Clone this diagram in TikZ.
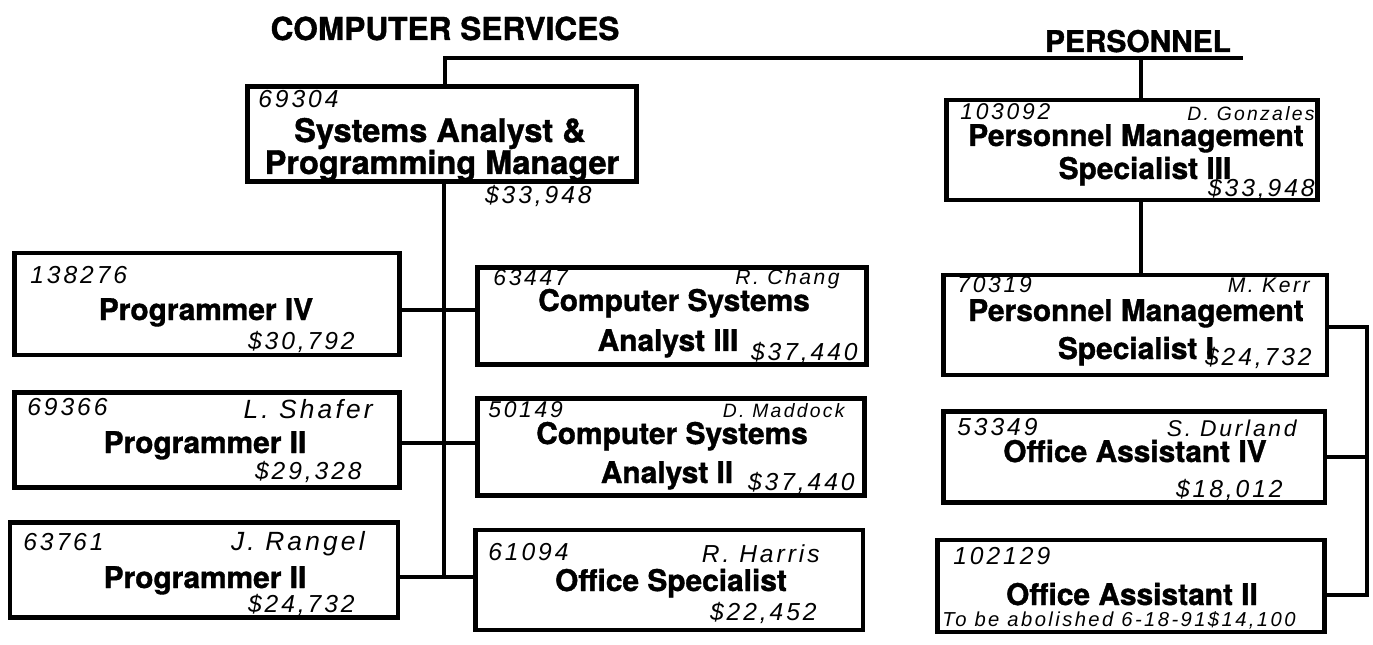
\documentclass[tikz,border=0pt]{standalone}
\usepackage{fontspec}
\newfontfamily\chartfont{TeX Gyre Heros}[BoldFeatures={FakeBold=1.2}]
\newfontfamily\handfont{Liberation Sans}[LetterSpace=12]

\begin{document}
\begin{tikzpicture}[x=0.02cm, y=-0.02cm,
	post/.style={draw, line width=2.8pt, minimum width=7.7cm, minimum height=1.95cm, inner sep=0pt},
	link/.style={line width=2.2pt},
	dept/.style={inner sep=0pt, anchor=base, font=\chartfont\bfseries\fontsize{18}{18}\selectfont},
	ttl/.style={inner sep=0pt, anchor=base, font=\chartfont\bfseries\fontsize{17}{17}\selectfont},
	hand/.style={inner sep=0pt, font=\handfont\itshape\fontsize{14}{14}\selectfont},
	posno/.style={hand, anchor=base west},
	pay/.style={hand, anchor=base east}]
	\useasboundingbox (0,0) rectangle (1373,645);
	% departments
	\node[dept] (cs) at (445,40) {COMPUTER SERVICES};
	\node[dept, font=\chartfont\bfseries\fontsize{17}{17}\selectfont] (pers) at (1138,52) {PERSONNEL};
	% positions
	\node[post, minimum width=7.78cm, minimum height=1.9cm] (mgr) at (442,134) {};
	\node[post, minimum width=7.42cm, minimum height=2cm] (pms3) at (1132,150) {};
	\node[post, minimum height=2.04cm] (p4) at (207,304) {};
	\node[post, minimum height=1.9cm] (p2a) at (207,440) {};
	\node[post, minimum width=7.76cm, minimum height=1.9cm] (p2b) at (204,570) {};
	\node[post, minimum width=7.78cm] (csa3) at (672,316) {};
	\node[post, minimum width=7.74cm] (csa2) at (671,447) {};
	\node[post, minimum width=7.76cm, minimum height=2cm] (os) at (669,580) {};
	\node[post, minimum width=7.68cm, minimum height=2cm] (pms1) at (1135,325) {};
	\node[post, minimum width=7.64cm, minimum height=1.82cm] (oa4) at (1134,457) {};
	\node[post, minimum width=7.74cm, minimum height=1.84cm] (oa2) at (1131,586) {};
	% titles
	\node[ttl, font=\chartfont\bfseries\fontsize{18.5}{18.5}\selectfont] (mgr-a) at (440,142) {Systems Analyst \&};
	\node[ttl, font=\chartfont\bfseries\fontsize{18.5}{18.5}\selectfont] (mgr-b) at (442,174) {Programming Manager};
	\node[ttl] (pms3-a) at (1136,146) {Personnel Management};
	\node[ttl] (pms3-b) at (1145,179) {Specialist III};
	\node[ttl] (p4-a) at (206,320) {Programmer IV};
	\node[ttl] (p2a-a) at (205,453) {Programmer II};
	\node[ttl] (p2b-a) at (205,588) {Programmer II};
	\node[ttl] (csa3-a) at (674,311) {Computer Systems};
	\node[ttl] (csa3-b) at (668,351) {Analyst III};
	\node[ttl] (csa2-a) at (672,444) {Computer Systems};
	\node[ttl] (csa2-b) at (667,483) {Analyst II};
	\node[ttl] (os-a) at (671,591) {Office Specialist};
	\node[ttl] (pms1-a) at (1136,321) {Personnel Management};
	\node[ttl] (pms1-b) at (1136,359) {Specialist I};
	\node[ttl] (oa4-a) at (1135,462) {Office Assistant IV};
	\node[ttl] (oa2-a) at (1132,605) {Office Assistant II};
	% handwritten numbers, names and salaries
	\node[posno] (mgr-no) at (258,108) {69304};
	\node[pay] (mgr-pay) at (592,204) {\$33,948};
	\node[posno, font=\handfont\itshape\fontsize{13}{13}\selectfont] (pms3-no) at (960,120) {103092};
	\node[pay, font=\handfont\itshape\fontsize{11}{11}\selectfont] (pms3-who) at (1315,121) {D. Gonzales};
	\node[pay] (pms3-pay) at (1315,197) {\$33,948};
	\node[posno] (p4-no) at (30,284) {138276};
	\node[pay] (p4-pay) at (355,349) {\$30,792};
	\node[posno] (p2a-no) at (27,415) {69366};
	\node[pay, font=\handfont\itshape\fontsize{15}{15}\selectfont] (p2a-who) at (373,418) {L. Shafer};
	\node[pay] (p2a-pay) at (362,479) {\$29,328};
	\node[posno] (p2b-no) at (23,550) {63761};
	\node[pay, font=\handfont\itshape\fontsize{15}{15}\selectfont] (p2b-who) at (365,550) {J. Rangel};
	\node[pay] (p2b-pay) at (355,612) {\$24,732};
	\node[posno, font=\handfont\itshape\fontsize{13}{13}\selectfont] (csa3-no) at (493,286) {63447};
	\node[pay, font=\handfont\itshape\fontsize{12}{12}\selectfont] (csa3-who) at (840,285) {R. Chang};
	\node[pay] (csa3-pay) at (858,360) {\$37,440};
	\node[posno, font=\handfont\itshape\fontsize{13}{13}\selectfont] (csa2-no) at (488,417) {50149};
	\node[pay, font=\handfont\itshape\fontsize{11}{11}\selectfont] (csa2-who) at (845,417) {D. Maddock};
	\node[pay] (csa2-pay) at (855,490) {\$37,440};
	\node[posno] (os-no) at (488,560) {61094};
	\node[pay] (os-who) at (820,562) {R. Harris};
	\node[pay] (os-pay) at (817,620) {\$22,452};
	\node[posno, font=\handfont\itshape\fontsize{13}{13}\selectfont] (pms1-no) at (957,293) {70319};
	\node[pay, font=\handfont\itshape\fontsize{12}{12}\selectfont] (pms1-who) at (1310,293) {M. Kerr};
	\node[pay] (pms1-pay) at (1312,365) {\$24,732};
	\node[posno] (oa4-no) at (957,435) {53349};
	\node[pay, font=\handfont\itshape\fontsize{13}{13}\selectfont] (oa4-who) at (1297,436) {S. Durland};
	\node[pay] (oa4-pay) at (1283,497) {\$18,012};
	\node[posno] (oa2-no) at (953,564) {102129};
	\node[posno, font=\handfont\itshape\fontsize{11.5}{11.5}\selectfont] (oa2-note) at (942,626) {\underline{To be abolished 6-18-91\$14,100}};
	% connectors
	\coordinate (top) at (445,58);
	\coordinate (topend) at (1243,58);
	\coordinate (tp) at (1141,58);
	\coordinate (j1) at (444,310);
	\coordinate (j2) at (444,443);
	\coordinate (j3) at (444,577);
	\coordinate (rb) at (1367,327);
	\coordinate (rb2) at (1367,595);
	\draw[link] (mgr.north -| top) -- (top) -- (topend);
	\draw[link] (tp) -- (tp |- pms3.north);
	\draw[link] (mgr.south -| j1) -- (j3);
	\draw[link] (p4.east |- j1) -- (csa3.west |- j1);
	\draw[link] (p2a.east |- j2) -- (csa2.west |- j2);
	\draw[link] (p2b.east |- j3) -- (os.west |- j3);
	\draw[link] (pms3.south -| tp) -- (tp |- pms1.north);
	\draw[link] (pms1.east |- rb) -- (rb) -- (rb2) -- (oa2.east |- rb2);
	\draw[link] (rb |- oa4.east) -- (oa4.east);
\end{tikzpicture}
\end{document}
